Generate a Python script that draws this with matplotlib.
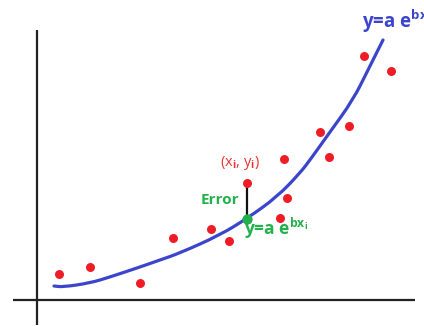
import numpy as np
import matplotlib
matplotlib.use("Agg")
import matplotlib.pyplot as plt
from matplotlib.path import Path
from matplotlib.patches import PathPatch

plt.rcParams['font.family'] = ['Open Sans', 'DejaVu Sans']
plt.rcParams['mathtext.fontset'] = 'custom'
plt.rcParams['mathtext.rm'] = 'Open Sans:bold'
plt.rcParams['mathtext.it'] = 'Open Sans:bold'
plt.rcParams['mathtext.bf'] = 'Open Sans:bold'

# observed points (x, y)
pts_x = [2.2, 5.3, 10.3, 13.6, 17.4, 19.2, 21.0, 24.3, 25.0, 24.7, 28.3, 29.2, 31.2, 32.7, 35.4]
pts_y = [2.6, 3.3, 1.7, 6.2, 7.1, 5.9, 11.7, 8.2, 10.2, 14.1, 16.8, 14.3, 17.4, 24.4, 22.9]

# fitted curve y = a e^(bx)
curve_x = [1.7, 2.6, 5.3, 7.3, 10.3, 12.3, 14.3, 18.3, 21.0, 24.0, 26.3, 27.3, 29.3, 31.6, 33.1, 34.6]
curve_y = [1.4, 1.3, 1.7, 2.3, 3.3, 4.0, 4.7, 6.5, 8.15, 10.3, 12.7, 14.0, 16.8, 20.0, 23.0, 26.0]

# highlighted point and its fitted value
xi, yi, yfit = 21.0, 11.7, 8.15

fig = plt.figure(figsize=(4.24, 3.26), dpi=100)
ax = fig.add_axes([0, 0, 1, 1])
ax.set_xlim(-3.7, 38.7)
ax.set_ylim(-2.6, 30)
ax.axis('off')

# hand drawn axes
ax.plot([-2.4, 37.8], [0, 0], color='#222222', lw=1.6, solid_capstyle='butt')
ax.plot([0, 0], [-2.5, 27], color='#222222', lw=1.6, solid_capstyle='butt')

# smooth the read curve: quadratic beziers with the read points as control points
cp = np.column_stack([curve_x, curve_y])
mids = (cp[:-1] + cp[1:]) / 2
verts = [cp[0]]
codes = [Path.MOVETO]
verts.append(mids[0]); codes.append(Path.LINETO)
for k in range(1, len(cp) - 1):
    verts += [cp[k], mids[k]]
    codes += [Path.CURVE3, Path.CURVE3]
verts.append(cp[-1]); codes.append(Path.LINETO)
ax.add_patch(PathPatch(Path(verts, codes), facecolor='none', edgecolor='#3b45cc',
                       lw=2.3, capstyle='round'))

ax.scatter(pts_x, pts_y, s=42, color='#ee1c24', zorder=3, linewidths=0)

ax.plot([xi, xi], [yi, yfit], color='#111111', lw=1.6, zorder=2)
ax.scatter([xi], [yfit], s=55, color='#22b14c', zorder=4, linewidths=0)

ax.text(20.3, 13.7, r'(x$_\mathrm{i}$, y$_\mathrm{i}$)', color='#ee3030', fontsize=10.5,
        ha='center', va='center')
ax.text(20.2, 10.0, 'Error', color='#22b14c', fontsize=11, fontweight='bold',
        ha='right', va='center')
ax.text(20.7, 6.5, r'y=a e$^{\mathrm{bx}_\mathrm{i}}$', color='#22b14c', fontsize=12.5,
        fontweight='bold', ha='left', va='baseline')
ax.text(32.5, 27.2, r'y=a e$^{\mathrm{bx}}$', color='#3b45cc', fontsize=13.5,
        fontweight='bold', ha='left', va='baseline')

fig.savefig('out.png', dpi=100)
